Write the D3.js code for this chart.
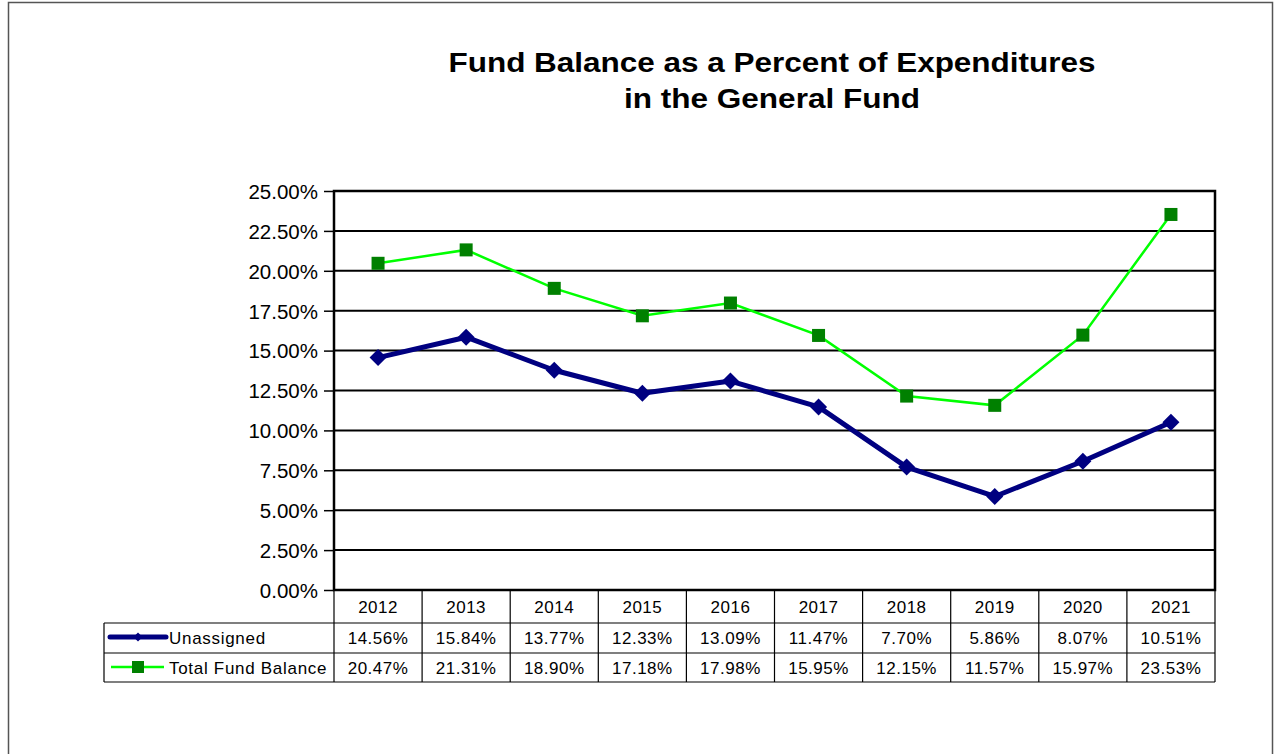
<!DOCTYPE html>
<html><head><meta charset="utf-8">
<script src="https://cdn.jsdelivr.net/npm/d3@7"></script>
<style>body{margin:0;background:#fff}svg{display:block}text{font-family:"Liberation Sans",Arial,sans-serif}</style>
</head><body><svg id="c" width="1276" height="754"></svg>
<script>
const years = ["2012","2013","2014","2015","2016","2017","2018","2019","2020","2021"];
const unassigned = [14.56,15.84,13.77,12.33,13.09,11.47,7.70,5.86,8.07,10.51];
const totalFund = [20.47,21.31,18.90,17.18,17.98,15.95,12.15,11.57,15.97,23.53];
const yTicks = [0,2.5,5,7.5,10,12.5,15,17.5,20,22.5,25];
const seriesNames = ["Unassigned","Total Fund Balance"];

const svg = d3.select("#c");
svg.append("rect").attr("x",8.5).attr("y",2.5).attr("width",1264).attr("height",760)
  .attr("fill","none").attr("stroke","#555").attr("stroke-width",1.5);

const L=334, R=1215, T=191, B=590;
const x = d3.scaleBand().domain(years).range([L,R]);
const y = d3.scaleLinear().domain([0,25]).range([B,T]);

const t1 = svg.append("text").attr("x",772).attr("y",72).attr("text-anchor","middle")
  .style("font-size","28px").attr("font-weight","bold").text("Fund Balance as a Percent of Expenditures");
const t2 = svg.append("text").attr("x",772).attr("y",108).attr("text-anchor","middle")
  .style("font-size","28px").attr("font-weight","bold").text("in the General Fund");
t1.attr("textLength",647).attr("lengthAdjust","spacingAndGlyphs");
t2.attr("textLength",296).attr("lengthAdjust","spacingAndGlyphs");

svg.append("g").selectAll("line").data(yTicks).join("line")
  .attr("x1",L).attr("x2",R).attr("y1",d=>y(d)).attr("y2",d=>y(d))
  .attr("stroke","#000").attr("stroke-width",2);

const ya = svg.append("g").attr("transform",`translate(${L},0)`)
  .call(d3.axisLeft(y).tickValues(yTicks).tickFormat(d=>d.toFixed(2)+"%").tickSize(10).tickPadding(6));
ya.select(".domain").remove();
ya.selectAll(".tick line").attr("stroke","#000").attr("stroke-width",1.5);
ya.selectAll("text").style("font-size","20.5px").attr("fill","#000")
  .style("font-family","'Liberation Sans', Arial, sans-serif").attr("dy","0.36em");

svg.append("rect").attr("x",L).attr("y",T).attr("width",R-L).attr("height",B-T)
  .attr("fill","none").attr("stroke","#000").attr("stroke-width",2.5);

const cx = d=>x(d)+x.bandwidth()/2;
svg.append("path").datum(totalFund.map((v,i)=>[years[i],v]))
  .attr("d",d3.line().x(d=>cx(d[0])).y(d=>y(d[1])))
  .attr("fill","none").attr("stroke","#00ff00").attr("stroke-width",2.5);
svg.append("g").selectAll("rect").data(totalFund).join("rect")
  .attr("x",(d,i)=>cx(years[i])-6.5).attr("y",d=>y(d)-6.5).attr("width",13).attr("height",13)
  .attr("fill","#008000");
svg.append("path").datum(unassigned.map((v,i)=>[years[i],v]))
  .attr("d",d3.line().x(d=>cx(d[0])).y(d=>y(d[1])))
  .attr("fill","none").attr("stroke","#000080").attr("stroke-width",5).attr("stroke-linejoin","round");
const diamondPath = h=>`M0,${-h}L${h},0L0,${h}L${-h},0Z`;
svg.append("g").selectAll("path").data(unassigned).join("path")
  .attr("transform",(d,i)=>`translate(${cx(years[i])},${y(d)})`)
  .attr("d",diamondPath(8.5)).attr("fill","#000080");

const rowY = [590,623,653,682];
const tg = svg.append("g");
const lineStyle = s=>s.attr("stroke","#000").attr("stroke-width",1.2);
lineStyle(tg.append("line").attr("x1",104).attr("x2",R).attr("y1",rowY[1]).attr("y2",rowY[1]));
lineStyle(tg.append("line").attr("x1",104).attr("x2",R).attr("y1",rowY[2]).attr("y2",rowY[2]));
lineStyle(tg.append("line").attr("x1",104).attr("x2",R).attr("y1",rowY[3]).attr("y2",rowY[3]));
lineStyle(tg.append("line").attr("x1",104).attr("x2",104).attr("y1",rowY[1]).attr("y2",rowY[3]));
tg.selectAll(".v").data(years.concat(["end"])).join("line").attr("class","v")
  .attr("x1",(d,i)=>L+i*x.bandwidth()).attr("x2",(d,i)=>L+i*x.bandwidth())
  .attr("y1",rowY[0]).attr("y2",rowY[3]).call(lineStyle);

const tf = s=>s.style("font-size","17px").style("letter-spacing","0.5px").attr("fill","#000").attr("text-anchor","middle");
tg.selectAll(".yr").data(years).join("text").attr("class","yr")
  .attr("x",d=>cx(d)).attr("y",613).text(d=>d).call(tf);
tg.selectAll(".u").data(unassigned).join("text").attr("class","u")
  .attr("x",(d,i)=>cx(years[i])).attr("y",644).text(d=>d.toFixed(2)+"%").call(tf);
tg.selectAll(".t").data(totalFund).join("text").attr("class","t")
  .attr("x",(d,i)=>cx(years[i])).attr("y",674).text(d=>d.toFixed(2)+"%").call(tf);

tg.append("line").attr("x1",110).attr("x2",166).attr("y1",637).attr("y2",637)
  .attr("stroke","#000080").attr("stroke-width",5).attr("stroke-linecap","round");
tg.append("path").attr("transform","translate(138,637)").attr("d",diamondPath(4.5)).attr("fill","#000080");
tg.append("line").attr("x1",111).attr("x2",164).attr("y1",667).attr("y2",667)
  .attr("stroke","#00ff00").attr("stroke-width",2.5);
tg.append("rect").attr("x",132).attr("y",661).attr("width",12).attr("height",12).attr("fill","#008000");
tg.append("text").attr("x",169).attr("y",644).style("font-size","17px").style("letter-spacing","0.7px").text(seriesNames[0]);
tg.append("text").attr("x",169).attr("y",674).style("font-size","17px").style("letter-spacing","0.7px").text(seriesNames[1]);
</script></body></html>
